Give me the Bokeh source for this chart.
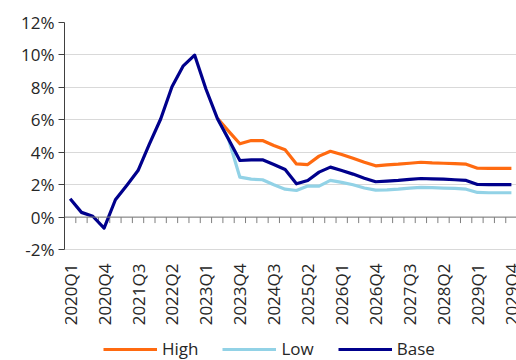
import math
from bokeh.plotting import figure
from bokeh.core.properties import value
from bokeh.models import (FixedTicker, PrintfTickFormatter, Span, Legend,
                          LegendItem, Range1d, ColumnDataSource)
from bokeh.embed import file_html
from bokeh.resources import INLINE

NAN = float("nan")

quarters = [
    "2020Q1", "2020Q2", "2020Q3", "2020Q4",
    "2021Q1", "2021Q2", "2021Q3", "2021Q4",
    "2022Q1", "2022Q2", "2022Q3", "2022Q4",
    "2023Q1", "2023Q2", "2023Q3", "2023Q4",
    "2024Q1", "2024Q2", "2024Q3", "2024Q4",
    "2025Q1", "2025Q2", "2025Q3", "2025Q4",
    "2026Q1", "2026Q2", "2026Q3", "2026Q4",
    "2027Q1", "2027Q2", "2027Q3", "2027Q4",
    "2028Q1", "2028Q2", "2028Q3", "2028Q4",
    "2029Q1", "2029Q2", "2029Q3", "2029Q4",
]

# inflation, % year on year
base = [
    1.13, 0.29, 0.05, -0.68,
    1.07, 1.95, 2.87, 4.50,
    6.05, 8.04, 9.33, 9.99,
    7.90, 6.10, 4.80, 3.49,
    3.53, 3.53, 3.24, 2.93,
    2.05, 2.26, 2.77, 3.08,
    2.87, 2.65, 2.40, 2.18,
    2.22, 2.26, 2.32, 2.38,
    2.36, 2.34, 2.30, 2.26,
    2.01, 2.00, 2.00, 2.00,
]

# scenarios branch off from 2023Q2
high = [NAN] * 13 + [
    6.10, 5.30, 4.52,
    4.72, 4.72, 4.41, 4.15,
    3.28, 3.24, 3.76, 4.06,
    3.86, 3.63, 3.38, 3.16,
    3.22, 3.26, 3.32, 3.38,
    3.34, 3.32, 3.30, 3.26,
    3.01, 3.00, 3.00, 3.00,
]

low = [NAN] * 13 + [
    6.10, 4.80, 2.46,
    2.34, 2.30, 1.99, 1.72,
    1.64, 1.91, 1.91, 2.26,
    2.14, 1.99, 1.79, 1.66,
    1.68, 1.72, 1.79, 1.83,
    1.81, 1.79, 1.77, 1.72,
    1.52, 1.50, 1.50, 1.50,
]

y_ticks = [-2, 0, 2, 4, 6, 8, 10, 12]
series_names = ["High", "Low", "Base"]

FONT = "Open Sans"
TEXT = "#262626"
ORANGE = "#FF6A10"
LIGHT = "#92D2E6"
NAVY = "#00008C"
COLORS = [ORANGE, LIGHT, NAVY]

idx = list(range(len(quarters)))
src = ColumnDataSource(dict(x=idx, q=quarters, base=base, high=high, low=low))

# the frame runs to the bottom of the canvas so the quarter labels and the
# legend can sit under the -2% line inside it
p = figure(width=516, height=360, output_backend="svg", toolbar_location=None,
           x_range=Range1d(-0.5, 39.45), y_range=Range1d(-8.846, 12),
           x_axis_location=None,
           min_border_left=64, min_border_right=0, min_border_top=22,
           min_border_bottom=0)
p.outline_line_color = None
p.background_fill_color = "white"
p.border_fill_color = "white"

# horizontal gridlines
p.xgrid.visible = False
p.ygrid.ticker = FixedTicker(ticks=y_ticks)
p.ygrid.grid_line_color = "#D9D9D9"
p.ygrid.grid_line_width = 1

# y axis, drawn only over the -2% .. 12% span
p.yaxis.bounds = (-2, 12)
p.yaxis.ticker = FixedTicker(ticks=y_ticks)
p.yaxis.formatter = PrintfTickFormatter(format="%d%%")
p.yaxis.axis_line_color = "#404040"
p.yaxis.major_tick_line_color = "#404040"
p.yaxis.major_tick_out = 6
p.yaxis.major_tick_in = 0
p.yaxis.minor_tick_line_color = None
p.yaxis.major_label_text_font = FONT
p.yaxis.major_label_text_font_size = "17px"
p.yaxis.major_label_text_color = TEXT
p.yaxis.major_label_standoff = 4

# quarter labels every third quarter, rotated, under the -2% line
label_idx = idx[::3]
lab_src = ColumnDataSource(dict(x=label_idx,
                                y=[y_ticks[0]] * len(label_idx),
                                t=[quarters[i] for i in label_idx]))
p.text(x="x", y="y", text="t", source=lab_src, angle=math.pi / 2,
       text_align="right", text_baseline="middle", y_offset=14,
       text_font=value(FONT), text_font_size=value("17px"),
       text_color=TEXT)

# zero line with category tick marks
p.add_layout(Span(location=0, dimension="width", line_color="#7F7F7F", line_width=1))
bounds = [i + 0.5 for i in idx]
p.segment(x0=bounds, x1=bounds, y0=[0] * len(bounds), y1=[-0.37] * len(bounds),
          line_color="#7F7F7F", line_width=1)

renderers = []
for col, color in zip(["high", "low", "base"], COLORS):
    renderers.append(p.line("x", col, source=src, line_color=color,
                            line_width=3.2, line_join="round"))

legend = Legend(items=[LegendItem(label=n, renderers=[r])
                       for n, r in zip(series_names, renderers)],
                orientation="horizontal", location=(39, 0))
legend.glyph_width = 54
legend.glyph_height = 20
legend.label_text_font = FONT
legend.label_text_font_size = "17px"
legend.label_text_color = TEXT
legend.label_standoff = 5
legend.spacing = 24
legend.padding = 0
legend.margin = 0
legend.border_line_color = None
legend.background_fill_alpha = 0
p.add_layout(legend)

open("out.html", "w").write(file_html(p, INLINE))
